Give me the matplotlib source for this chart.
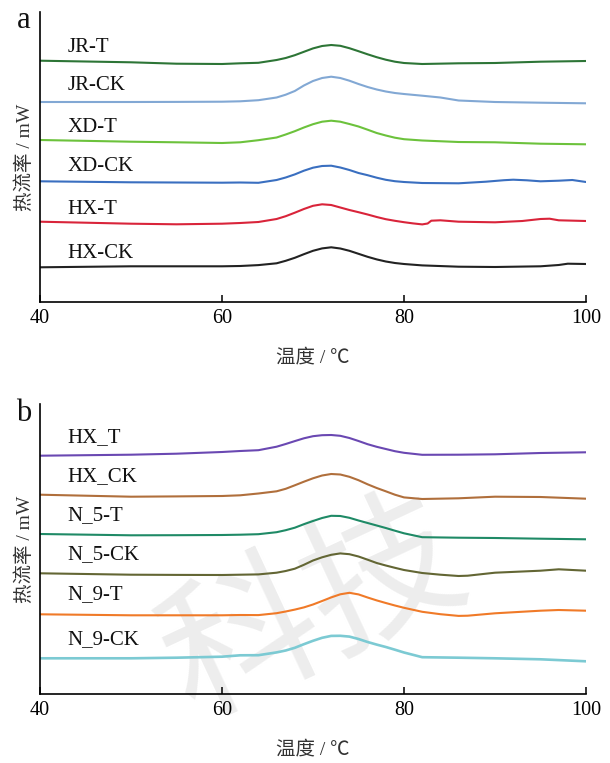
import matplotlib
matplotlib.use("Agg")
import matplotlib.pyplot as plt

# ---------------- data ----------------
T_BASE = [40, 50, 55, 60, 62, 64, 66, 67, 68, 69, 70, 71, 72, 73, 74, 75, 76,
          77, 78, 79, 80, 82, 86, 90, 95, 100]

# Panel a
JR_T_T = T_BASE
JR_T_Y = [241.3, 239.7, 238.3, 238.0, 238.7, 239.2, 242.0, 244.0, 246.8, 250.2, 253.6,
          256.0, 257.0, 256.2, 253.8, 250.8, 247.7, 244.8, 242.3, 240.3, 239.0, 238.0,
          238.7, 239.0, 240.3, 241.0]

JR_CK_T = [40, 50, 55, 60, 62, 64, 66, 67, 68, 69, 70, 71, 72, 73, 74, 75, 76,
           77, 78, 79, 80, 82, 84, 86, 90, 95, 100]
JR_CK_Y = [200.0, 200.0, 200.1, 200.3, 200.7, 201.8, 204.5, 207.3, 211.0, 216.5, 221.0,
           224.0, 225.3, 224.0, 221.3, 218.0, 215.0, 212.5, 210.5, 209.0, 208.0, 206.3,
           204.5, 201.5, 200.0, 199.3, 198.7]

XD_T_T = T_BASE
XD_T_Y = [162.0, 160.3, 159.7, 159.0, 159.7, 161.8, 164.5, 167.5, 170.8, 174.5, 177.8,
          180.3, 181.3, 180.3, 178.0, 175.5, 172.3, 169.0, 166.5, 164.3, 162.8, 161.5,
          160.0, 159.7, 158.3, 157.7]

XD_CK_T = [40, 50, 55, 60, 62, 64, 66, 67, 68, 69, 70, 71, 72, 73, 74, 75, 76, 77,
           78, 79, 80, 82, 86, 89, 91, 92, 93.5, 95, 97, 98.5, 100]
XD_CK_Y = [120.7, 119.7, 119.5, 119.3, 119.5, 119.2, 122.0, 124.5, 127.6, 131.3, 134.3,
           136.0, 136.3, 134.5, 132.0, 129.0, 126.8, 124.3, 122.2, 120.8, 120.0, 119.0,
           118.7, 120.3, 121.8, 122.3, 121.7, 120.7, 121.3, 122.0, 120.0]

HX_T_T = [40, 50, 55, 60, 62, 64, 66, 67, 68, 69, 70, 71, 72, 73, 74, 75, 76, 77,
          78, 79, 80, 81, 82, 82.6, 83, 84, 86, 90, 93, 95, 96, 97, 100]
HX_T_Y = [80.3, 78.3, 77.7, 78.3, 79.0, 80.0, 83.0, 85.8, 89.3, 93.0, 96.2, 97.7, 97.0,
          94.5, 92.0, 89.8, 87.5, 85.0, 82.8, 81.2, 79.8, 78.6, 77.6, 78.5, 81.3, 81.7,
          80.3, 79.7, 81.0, 83.0, 83.3, 81.7, 81.0]

HX_CK_T = [40, 50, 55, 60, 62, 64, 66, 67, 68, 69, 70, 71, 72, 73, 74, 75, 76, 77,
           78, 79, 80, 82, 86, 90, 95, 97, 98, 100]
HX_CK_Y = [34.7, 35.7, 35.7, 35.7, 36.0, 36.9, 38.7, 41.2, 44.2, 47.8, 51.2, 53.6, 54.7,
           53.5, 51.2, 48.2, 45.2, 42.6, 40.5, 39.0, 38.0, 36.6, 35.3, 35.0, 35.7, 37.0,
           38.3, 38.0]

# Panel b
B_HX_T_T = T_BASE
B_HX_T_Y = [238.3, 239.3, 240.3, 242.0, 243.0, 243.8, 247.3, 250.0, 252.9, 255.7, 257.8,
            258.8, 259.0, 258.2, 256.0, 253.0, 249.8, 247.2, 245.0, 242.8, 241.2, 239.2,
            239.3, 239.7, 241.0, 241.7]

B_HX_CK_T = T_BASE
B_HX_CK_Y = [199.3, 197.3, 197.6, 198.0, 198.7, 200.5, 202.7, 205.2, 208.7, 212.3, 215.7,
             218.5, 220.0, 219.5, 217.2, 213.8, 209.7, 206.0, 202.7, 199.3, 196.6, 195.0,
             195.7, 197.3, 197.0, 195.3]

N5_T_T = T_BASE
N5_T_Y = [160.0, 158.7, 158.8, 159.0, 159.3, 159.8, 161.8, 163.8, 166.3, 169.8, 173.0,
          176.0, 178.2, 178.0, 176.2, 173.5, 171.0, 168.5, 166.0, 163.3, 160.7, 156.8,
          156.3, 156.0, 155.3, 154.7]

N5_CK_T = [40, 50, 55, 60, 62, 64, 66, 67, 68, 69, 70, 71, 72, 73, 74, 75, 76, 77,
           78, 79, 80, 82, 84, 86, 87, 90, 95, 97, 100]
N5_CK_Y = [120.7, 119.3, 119.1, 119.0, 119.3, 119.6, 121.3, 123.0, 125.3, 129.2, 133.5,
           136.7, 139.2, 140.6, 139.8, 137.5, 134.3, 131.0, 128.5, 126.2, 124.0, 121.0,
           119.3, 118.0, 118.3, 121.3, 123.3, 124.7, 123.3]

N9_T_T = [40, 50, 55, 60, 62, 64, 66, 67, 68, 69, 70, 71, 72, 73, 74, 75, 76, 77,
          78, 79, 80, 82, 84, 86, 87, 90, 95, 97, 100]
N9_T_Y = [79.7, 78.7, 78.7, 78.7, 79.0, 78.9, 80.8, 82.5, 84.4, 86.6, 89.5, 93.0, 96.6,
          99.7, 101.2, 99.6, 96.5, 93.6, 91.0, 88.5, 86.2, 82.2, 79.8, 78.1, 78.3, 80.7,
          83.3, 84.0, 83.3]

N9_CK_T = T_BASE
N9_CK_Y = [35.7, 35.7, 36.3, 37.3, 38.7, 38.8, 41.6, 43.5, 46.2, 49.8, 53.2, 56.2, 58.1,
           58.2, 57.4, 55.0, 52.0, 49.4, 47.0, 44.3, 41.5, 36.8, 36.3, 35.7, 34.7, 32.7]

LABELS_A = ["JR-T", "JR-CK", "XD-T", "XD-CK", "HX-T", "HX-CK"]
LABEL_Y_A = [255, 216, 174.7, 135.3, 93, 48.7]
LABELS_B = ["HX_T", "HX_CK", "N_5-T", "N_5-CK", "N_9-T", "N_9-CK"]
LABEL_Y_B = [256.7, 217.3, 178, 139, 99.7, 54.7]

COLORS_A = ["#2d7536", "#82a8d4", "#6cc23c", "#3a6fc0", "#d9243a", "#222222"]
COLORS_B = ["#6a48b2", "#b06f3c", "#1f8a66", "#636634", "#f07a28", "#7ccad3"]

X_TICKS = [40, 60, 80, 100]

# ---------------- drawing ----------------
SERIF = ["Liberation Serif", "Noto Sans CJK SC", "DejaVu Sans"]
plt.rcParams["font.family"] = SERIF

W, H = 610, 763
fig = plt.figure(figsize=(W / 100, H / 100), dpi=100)

ax_a = fig.add_axes([40 / W, 1 - 302 / H, 546 / W, 290 / H])
ax_b = fig.add_axes([40 / W, 1 - 694 / H, 546 / W, 290 / H])

series_a = [(JR_T_T, JR_T_Y), (JR_CK_T, JR_CK_Y), (XD_T_T, XD_T_Y),
            (XD_CK_T, XD_CK_Y), (HX_T_T, HX_T_Y), (HX_CK_T, HX_CK_Y)]
series_b = [(B_HX_T_T, B_HX_T_Y), (B_HX_CK_T, B_HX_CK_Y), (N5_T_T, N5_T_Y),
            (N5_CK_T, N5_CK_Y), (N9_T_T, N9_T_Y), (N9_CK_T, N9_CK_Y)]

# watermark (light gray, behind everything)
ax_b.set_facecolor("none")
ax_a.set_facecolor("none")
fig.text(315 / W, 1 - 612 / H, "科技", fontsize=112, color="#ededed",
         family=["Noto Sans CJK SC"], fontweight="light", rotation=25,
         ha="center", va="center", zorder=-5)

for ax, series, labels, label_y, colors, letter in [
        (ax_a, series_a, LABELS_A, LABEL_Y_A, COLORS_A, "a"),
        (ax_b, series_b, LABELS_B, LABEL_Y_B, COLORS_B, "b")]:
    for (t, y), c in zip(series, colors):
        lw = 1.9 if c == "#7ccad3" else 1.5
        ax.plot(t, y, color=c, lw=lw, solid_capstyle="round", solid_joinstyle="round")
    for lab, ly in zip(labels, label_y):
        ax.text(43.0, ly, lab, fontsize=15, ha="left", va="center", color="#111111")
    ax.set_xlim(40, 100)
    ax.set_ylim(0, 290)
    ax.set_xticks(X_TICKS)
    ax.set_yticks([])
    ax.spines["top"].set_visible(False)
    ax.spines["right"].set_visible(False)
    ax.spines["left"].set_linewidth(1.2)
    ax.spines["bottom"].set_linewidth(1.2)
    ax.tick_params(axis="x", direction="in", length=5, width=1.1, pad=5,
                   labelsize=14.5)
    ax.text(0.5, -55 / 290, "温度 / ℃", transform=ax.transAxes, fontsize=14,
            ha="center", va="center", color="#333333")
    ax.text(-15 / 546, 0.5, "热流率 / mW", transform=ax.transAxes, fontsize=14,
            ha="center", va="center", rotation=90, color="#333333")
    ax.text(-16 / 546, 1.0 - 9 / 290, letter, transform=ax.transAxes, fontsize=22,
            ha="center", va="center", color="#111111")

fig.savefig("out.png", dpi=100)
